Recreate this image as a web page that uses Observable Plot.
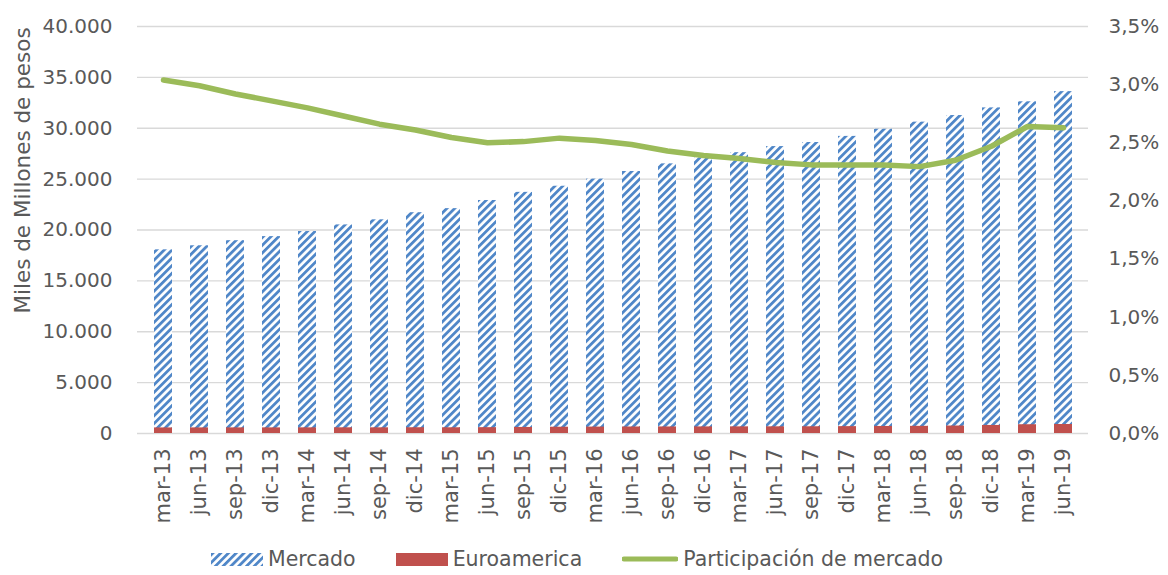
<!DOCTYPE html>
<html>
<head>
<meta charset="utf-8">
<script src="https://cdn.jsdelivr.net/npm/d3@7"></script>
<script src="https://cdn.jsdelivr.net/npm/@observablehq/plot@0.6"></script>
<style>
  html, body { margin: 0; padding: 0; background: #fff; }
  body { width: 1168px; height: 575px; overflow: hidden; font-family: "DejaVu Sans", Verdana, sans-serif; color: #595959; }
  #legend { display: flex; justify-content: center; align-items: center; height: 32px; margin-top: 3px; font-size: 20.5px; margin-left: -14px; }
  .item { display: flex; align-items: center; margin: 0 20px; }
  .sw { display: inline-block; margin-right: 5px; }
</style>
</head>
<body>
<div id="chart"></div>
<div id="legend">
  <div class="item"><svg class="sw" width="52" height="13"><defs><pattern id="lgStripe" patternUnits="userSpaceOnUse" width="5.5" height="5.5" patternTransform="rotate(45)"><rect width="5.5" height="5.5" fill="#fff"/><rect width="2.8" height="5.5" fill="#5087c8"/></pattern></defs><rect width="52" height="13" fill="url(#lgStripe)"/></svg>Mercado</div>
  <div class="item"><svg class="sw" width="52" height="13"><rect width="52" height="13" fill="#c0504d"/></svg>Euroamerica</div>
  <div class="item"><svg class="sw" width="56" height="14"><line x1="2" y1="7" x2="54" y2="7" stroke="#9bbb59" stroke-width="5" stroke-linecap="round"/></svg>Participación de mercado</div>
</div>
<script>
const categories = ["mar-13","jun-13","sep-13","dic-13","mar-14","jun-14","sep-14","dic-14","mar-15","jun-15","sep-15","dic-15","mar-16","jun-16","sep-16","dic-16","mar-17","jun-17","sep-17","dic-17","mar-18","jun-18","sep-18","dic-18","mar-19","jun-19"];
const mercado = [18050,18450,18950,19350,19850,20500,21000,21700,22100,22900,23700,24300,25000,25750,26500,27100,27600,28200,28600,29200,29900,30600,31250,32000,32600,33600];
const euroamerica = [548,550,552,553,556,560,559,566,562,573,595,617,630,640,644,648,653,657,661,675,691,702,734,790,861,884];
const participacion = [3.04,2.99,2.92,2.86,2.80,2.73,2.66,2.61,2.545,2.50,2.51,2.54,2.52,2.485,2.43,2.39,2.365,2.33,2.31,2.31,2.31,2.295,2.35,2.47,2.64,2.63];
const leftTicks = [0,5000,10000,15000,20000,25000,30000,35000,40000];
const rightTicks = [0,0.5,1.0,1.5,2.0,2.5,3.0,3.5];
const yLabel = "Miles de Millones de pesos";

const yMax = 40000, pMax = 3.5, k = yMax / pMax;
const rows = categories.map((c, i) => ({cat: c, mercado: mercado[i], euro: euroamerica[i], pct: participacion[i]}));
const fmtL = v => d3.format(",")(v).replace(/,/g, ".");
const fmtR = v => (v / k).toFixed(1).replace(".", ",") + "%";

const chart = Plot.plot({
  width: 1168,
  height: 540,
  marginLeft: 137,
  marginRight: 80,
  marginTop: 26,
  marginBottom: 107,
  style: {fontFamily: "'DejaVu Sans', Verdana, sans-serif", fontSize: "20px", color: "#595959", background: "#fff"},
  x: {domain: categories, paddingInner: 0.5, paddingOuter: 0.25, label: null},
  y: {domain: [0, yMax], label: null},
  marks: [
    Plot.ruleY(leftTicks, {stroke: "#d9d9d9", strokeWidth: 1.3}),
    Plot.barY(rows, {x: "cat", y: "mercado", fill: "url(#stripes)"}),
    Plot.barY(rows, {x: "cat", y: "euro", fill: "#c0504d"}),
    Plot.line(rows, {x: "cat", y: d => d.pct * k, stroke: "#9bbb59", strokeWidth: 5.5, strokeLinecap: "round", strokeLinejoin: "round"}),
    Plot.axisY(leftTicks, {anchor: "left", tickSize: 0, tickPadding: 25, tickFormat: fmtL, fill: "#595959", label: null}),
    Plot.axisY(rightTicks.map(p => p * k), {anchor: "right", tickSize: 0, tickPadding: 20, tickFormat: fmtR, fill: "#595959", textAnchor: "start", label: null}),
    Plot.axisX({tickRotate: -90, tickSize: 0, tickPadding: 15, fill: "#595959", fontSize: 21, label: null}),
    Plot.text([yLabel], {frameAnchor: "left", dx: -114, y: 25850, rotate: -90, textAnchor: "middle", text: d => d, fill: "#595959", fontSize: 21.5})
  ]
});

const defs = d3.select(chart).insert("defs", ":first-child");
const pat = defs.append("pattern").attr("id", "stripes").attr("patternUnits", "userSpaceOnUse")
  .attr("width", 5.5).attr("height", 5.5).attr("patternTransform", "rotate(45)");
pat.append("rect").attr("width", 5.5).attr("height", 5.5).attr("fill", "#ffffff");
pat.append("rect").attr("width", 2.8).attr("height", 5.5).attr("fill", "#5087c8");

document.getElementById("chart").appendChild(chart);
</script>
</body>
</html>
